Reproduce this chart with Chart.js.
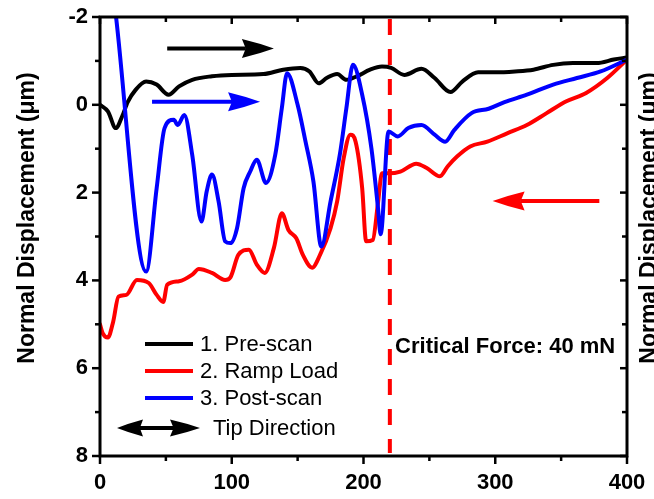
<!DOCTYPE html>
<html>
<head>
<meta charset="utf-8">
<script src="https://cdn.jsdelivr.net/npm/chart.js@4.4.0/dist/chart.umd.min.js"></script>
<style>
    html, body { margin: 0; padding: 0; background: #ffffff; overflow: hidden; }
    #wrap { width: 654px; height: 499px; }
</style>
</head>
<body>
<div id="wrap"><canvas id="scratchChart" width="654" height="499"></canvas></div>
<script>
const FONT = '"Liberation Sans", Arial, Helvetica, sans-serif';

// Axis ticks
const xMajorTicks = [0, 100, 200, 300, 400];
const xMinorTicks = [50, 150, 250, 350];
const yMajorTicks = [-2, 0, 2, 4, 6, 8];
const yMinorTicks = [-1, 1, 3, 5, 7];

// 1. Pre-scan
const preScanX = [0, 6, 12, 17, 21, 27, 35, 43, 52, 60, 70, 85, 100, 124, 139, 152, 159, 166, 172, 180,
    187, 195, 205, 214, 221, 231, 244, 254, 266, 275, 287, 300, 315, 329, 344, 359, 377, 390, 400];
const preScanY = [0.0, 0.15, 0.53, 0.25, -0.06, -0.34, -0.53, -0.46, -0.23, -0.42, -0.57, -0.65, -0.68, -0.70, -0.80, -0.84, -0.76, -0.49, -0.61, -0.70,
    -0.57, -0.65, -0.80, -0.87, -0.84, -0.68, -0.82, -0.61, -0.29, -0.53, -0.74, -0.74, -0.76, -0.80, -0.91, -0.95, -0.95, -1.03, -1.08];

// 2. Ramp Load
const rampLoadX = [0, 2, 6, 10, 14, 20, 28, 37, 43, 48, 51, 60, 70, 75, 85, 95, 99, 105, 113, 119,
    125, 132, 138, 143, 149, 154, 161, 167, 175, 180, 185, 190, 194, 199, 202, 207, 211, 214, 219, 228,
    240, 248, 258, 264, 271, 281, 294, 309, 324, 339, 354, 369, 385, 400];
const rampLoadY = [5.0, 5.2, 5.30, 4.94, 4.37, 4.33, 3.99, 4.06, 4.33, 4.49, 4.10, 4.02, 3.87, 3.74, 3.83, 3.99, 3.93, 3.42, 3.30, 3.64,
    3.83, 3.26, 2.47, 2.85, 3.04, 3.42, 3.71, 3.42, 2.81, 2.20, 1.21, 0.68, 0.84, 1.90, 3.11, 3.08, 2.24, 1.56, 1.56, 1.52,
    1.34, 1.44, 1.63, 1.40, 1.18, 0.95, 0.84, 0.65, 0.46, 0.19, -0.08, -0.27, -0.61, -1.03];

// 3. Post-scan
const postScanX = [12, 35, 43, 49, 56, 59, 64, 70, 77, 81, 85, 90, 95, 99, 104, 109, 114, 119, 126, 133,
    138, 142, 150, 156, 162, 168, 175, 182, 187, 192, 199, 206, 211, 213, 219, 226, 234, 244, 254, 262,
    269, 282, 295, 307, 324, 344, 362, 380, 400];
const postScanY = [-2.05, 3.80, 1.90, 0.53, 0.34, 0.46, 0.23, 1.14, 2.66, 1.97, 1.59, 2.20, 3.11, 3.15, 2.81, 1.90, 1.52, 1.25, 1.78, 1.14,
    0.08, -0.72, 0.0, 0.84, 1.75, 3.23, 2.20, 1.14, 0.08, -0.91, -0.23, 0.99, 2.35, 2.95, 0.61, 0.72, 0.53, 0.46, 0.68, 0.84,
    0.57, 0.19, 0.09, -0.06, -0.23, -0.46, -0.61, -0.76, -1.03];

const seriesLabels = ['1. Pre-scan', '2. Ramp Load', '3. Post-scan'];
const seriesColors = ['#000000', '#ff0000', '#0000ff'];

const criticalX = 220;
const criticalText = 'Critical Force: 40 mN';
const axisTitle = 'Normal Displacement (\u03bcm)';

// Scan direction arrows (data units)
const dirArrows = [
    { from: 51, to: 132, y: -1.28, color: '#000000' },
    { from: 39.5, to: 121.5, y: -0.07, color: '#0000ff' },
    { from: 379, to: 298, y: 2.19, color: '#ff0000' }
];

function toPoints(xs, ys) {
    return xs.map((x, i) => ({ x: x, y: ys[i] }));
}

function line(ctx, x0, y0, x1, y1) {
    ctx.beginPath();
    ctx.moveTo(x0, y0);
    ctx.lineTo(x1, y1);
    ctx.stroke();
}

function arrowHead(ctx, tipX, y, dir, len, half, color) {
    const back = tipX - dir * len;
    ctx.fillStyle = color;
    ctx.beginPath();
    ctx.moveTo(tipX, y);
    ctx.quadraticCurveTo(tipX - dir * len * 0.45, y - half * 0.55, back, y - half);
    ctx.lineTo(back + dir * len * 0.12, y);
    ctx.lineTo(back, y + half);
    ctx.quadraticCurveTo(tipX - dir * len * 0.45, y + half * 0.55, tipX, y);
    ctx.closePath();
    ctx.fill();
}

function drawArrow(ctx, x0, x1, y, color) {
    const dir = Math.sign(x1 - x0);
    ctx.strokeStyle = color;
    ctx.lineWidth = 4;
    ctx.lineCap = 'butt';
    line(ctx, x0, y, x1 - dir * 28, y);
    arrowHead(ctx, x1, y, dir, 32, 9.5, color);
}

// Frame, ticks, arrows, legend and labels
const decorPlugin = {
    id: 'decor',
    beforeDatasetsDraw(chart) {
        const { ctx, chartArea: a, scales } = chart;
        const px = scales.x.getPixelForValue(criticalX);
        ctx.save();
        ctx.strokeStyle = '#ff0000';
        ctx.lineWidth = 4;
        ctx.setLineDash([16, 14]);
        line(ctx, px, a.top + 2, px, a.bottom - 3);
        ctx.restore();
    },
    afterDraw(chart) {
        const { ctx, chartArea: a, scales } = chart;
        const sx = scales.x, sy = scales.y;
        ctx.save();

        // frame
        ctx.strokeStyle = '#000000';
        ctx.lineWidth = 3;
        ctx.strokeRect(a.left, a.top, a.right - a.left, a.bottom - a.top);

        // ticks: bottom/left outward, top/right inward
        ctx.lineWidth = 2.5;
        xMajorTicks.forEach(v => {
            const p = sx.getPixelForValue(v);
            line(ctx, p, a.bottom, p, a.bottom + 8);
            line(ctx, p, a.top, p, a.top + 7);
        });
        xMinorTicks.forEach(v => {
            const p = sx.getPixelForValue(v);
            line(ctx, p, a.bottom, p, a.bottom + 5);
            line(ctx, p, a.top, p, a.top + 5);
        });
        yMajorTicks.forEach(v => {
            const p = sy.getPixelForValue(v);
            line(ctx, a.left, p, a.left - 8, p);
            line(ctx, a.right, p, a.right - 7, p);
        });
        yMinorTicks.forEach(v => {
            const p = sy.getPixelForValue(v);
            line(ctx, a.left, p, a.left - 5, p);
            line(ctx, a.right, p, a.right - 5, p);
        });

        // direction arrows
        dirArrows.forEach(d => {
            drawArrow(ctx, sx.getPixelForValue(d.from), sx.getPixelForValue(d.to), sy.getPixelForValue(d.y), d.color);
        });

        // legend
        const lx = a.left + 45;
        let ly = a.top + 327;
        ctx.font = '22px ' + FONT;
        ctx.textAlign = 'left';
        ctx.textBaseline = 'middle';
        chart.data.datasets.forEach((ds, i) => {
            const y = ly + i * 27;
            ctx.strokeStyle = seriesColors[i];
            ctx.lineWidth = 4;
            line(ctx, lx, y, lx + 48, y);
            ctx.fillStyle = '#000000';
            ctx.fillText(seriesLabels[i], lx + 55, y + 1);
        });
        const ty = ly + 84;
        ctx.strokeStyle = '#000000';
        ctx.lineWidth = 4;
        line(ctx, a.left + 40, ty, a.left + 76, ty);
        arrowHead(ctx, a.left + 17, ty, -1, 26, 8.5, '#000000');
        arrowHead(ctx, a.left + 100, ty, 1, 30, 8.5, '#000000');
        ctx.fillStyle = '#000000';
        ctx.fillText('Tip Direction', a.left + 113, ty + 1);

        // critical force label
        ctx.font = 'bold 22px ' + FONT;
        ctx.fillText(criticalText, sx.getPixelForValue(224), a.top + 330);

        // axis titles (right one is cut by the page edge)
        ctx.font = 'bold 23px ' + FONT;
        ctx.textAlign = 'center';
        [28, 650].forEach(x => {
            ctx.save();
            ctx.translate(x, 218);
            ctx.rotate(-Math.PI / 2);
            ctx.fillText(axisTitle, 0, 0);
            ctx.restore();
        });

        ctx.restore();
    }
};

function setTicks(values) {
    return function(scale) {
        scale.ticks = values.map(v => ({ value: v }));
    };
}

const lineStyle = {
    borderWidth: 4,
    pointRadius: 0,
    fill: false,
    cubicInterpolationMode: 'monotone',
    borderJoinStyle: 'round',
    borderCapStyle: 'round'
};

// spacer axes that only reserve room above and right of the plot
const spacer = {
    type: 'linear',
    ticks: { display: false },
    grid: { display: false, drawTicks: false },
    border: { display: false }
};

// invisible tick marks used only to push labels away from the axis
function hiddenGrid(len) {
    return { display: true, drawOnChartArea: false, drawTicks: true, tickLength: len, color: 'rgba(0,0,0,0)' };
}

new Chart(document.getElementById('scratchChart'), {
    type: 'line',
    data: {
        datasets: [
            Object.assign({ label: seriesLabels[0], data: toPoints(preScanX, preScanY), borderColor: seriesColors[0], order: 3 }, lineStyle),
            Object.assign({ label: seriesLabels[1], data: toPoints(rampLoadX, rampLoadY), borderColor: seriesColors[1], order: 2 }, lineStyle),
            Object.assign({ label: seriesLabels[2], data: toPoints(postScanX, postScanY), borderColor: seriesColors[2], order: 1 }, lineStyle)
        ]
    },
    options: {
        responsive: false,
        animation: false,
        layout: { padding: 0 },
        plugins: {
            legend: { display: false },
            tooltip: { enabled: false }
        },
        scales: {
            x: {
                type: 'linear',
                min: 0,
                max: 400,
                afterFit: s => { s.height = 43; },
                afterBuildTicks: setTicks(xMajorTicks),
                grid: hiddenGrid(14),
                border: { display: false },
                ticks: {
                    color: '#000000',
                    padding: 0,
                    maxRotation: 0,
                    autoSkip: false,
                    font: { family: FONT, size: 22, weight: 'bold' }
                }
            },
            y: {
                type: 'linear',
                reverse: true,
                min: -2,
                max: 8,
                afterFit: s => { s.width = 100; },
                afterBuildTicks: setTicks(yMajorTicks),
                grid: hiddenGrid(12),
                border: { display: false },
                ticks: {
                    color: '#000000',
                    padding: 0,
                    autoSkip: false,
                    font: { family: FONT, size: 22, weight: 'bold' }
                }
            },
            xTop: Object.assign({ position: 'top', min: 0, max: 400, afterFit: s => { s.height = 17; } }, spacer),
            yRight: Object.assign({ position: 'right', min: -2, max: 8, afterFit: s => { s.width = 27; } }, spacer)
        }
    },
    plugins: [decorPlugin]
});
</script>
</body>
</html>
